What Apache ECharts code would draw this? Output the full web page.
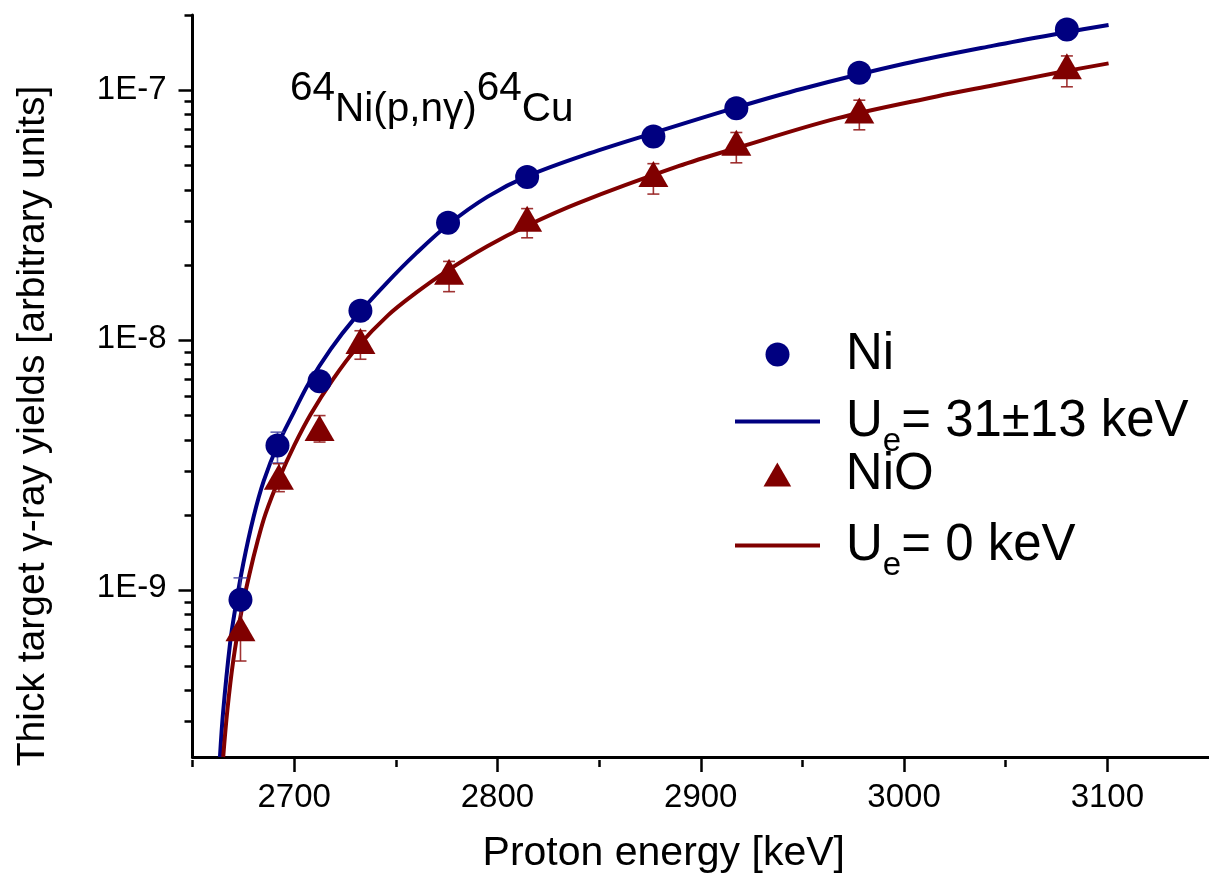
<!DOCTYPE html>
<html>
<head>
<meta charset="utf-8">
<script src="https://cdn.jsdelivr.net/npm/echarts@6/dist/echarts.min.js"></script>
<style>html,body{margin:0;padding:0;background:#fff}#chart{width:1209px;height:879px}</style>
</head>
<body>
<div id="chart"></div>
<script>
const FONT = '"Liberation Sans", Arial, Helvetica, sans-serif';

// ---- data ----
const niEnergy = [2673.6, 2691.8, 2712.5, 2732.6, 2775.7, 2814.6, 2876.7, 2917.5, 2978.0, 3080.1];
const niYield  = [8.98e-10, 3.74e-9, 6.77e-9, 1.30e-8, 2.93e-8, 4.47e-8, 6.50e-8, 8.45e-8, 1.173e-7, 1.749e-7];
const niLow    = [6.9e-10, 3.18e-9, 6.35e-9, 1.24e-8, 2.80e-8, 4.27e-8, 6.2e-8, 8.05e-8, 1.12e-7, 1.67e-7];
const niHigh   = [1.10e-9, 4.23e-9, 7.20e-9, 1.36e-8, 3.06e-8, 4.67e-8, 6.8e-8, 8.85e-8, 1.23e-7, 1.83e-7];

const nioEnergy = [2673.6, 2692.5, 2712.5, 2732.6, 2776.2, 2814.6, 2876.7, 2917.5, 2978.0, 3080.1];
const nioYield  = [6.9e-10, 2.80e-9, 4.40e-9, 9.82e-9, 1.862e-8, 3.04e-8, 4.60e-8, 6.14e-8, 8.28e-8, 1.244e-7];
const nioLow    = [5.1e-10, 2.44e-9, 3.86e-9, 8.3e-9, 1.55e-8, 2.55e-8, 3.82e-8, 5.1e-8, 6.92e-8, 1.03e-7];
const nioHigh   = [8.3e-10, 3.16e-9, 4.93e-9, 1.08e-8, 2.05e-8, 3.34e-8, 5.06e-8, 6.75e-8, 9.1e-8, 1.37e-7];

const fitNiEnergy = [2663.5, 2665.1, 2668.4, 2670.8, 2675, 2680, 2685, 2692, 2700, 2707, 2718, 2730, 2745, 2760, 2776, 2795, 2815, 2845, 2877, 2918, 2950, 3000, 3044, 3080, 3100.6];
const fitNiYield  = [2.1e-10, 3.21e-10, 5.93e-10, 8.07e-10, 1.259e-9, 1.928e-9, 2.692e-9, 3.776e-9, 5.117e-9, 6.607e-9, 9.12e-9, 1.219e-8, 1.663e-8, 2.208e-8, 2.891e-8, 3.724e-8, 4.519e-8, 5.559e-8, 6.73e-8, 8.531e-8, 1.012e-7, 1.274e-7, 1.507e-7, 1.706e-7, 1.824e-7];

const fitNiOEnergy = [2665.1, 2667.1, 2670, 2674.1, 2678, 2682, 2686, 2693, 2700, 2708, 2719, 2731, 2746, 2760, 2775, 2795, 2815, 2840, 2889, 2918, 2967, 3016, 3044, 3077, 3100.6];
const fitNiOYield  = [2.1e-10, 3.21e-10, 5.09e-10, 8.09e-10, 1.138e-9, 1.542e-9, 1.995e-9, 2.799e-9, 3.733e-9, 4.966e-9, 6.871e-9, 9.268e-9, 1.242e-8, 1.535e-8, 1.875e-8, 2.36e-8, 2.864e-8, 3.524e-8, 4.943e-8, 5.861e-8, 7.691e-8, 9.419e-8, 1.045e-7, 1.18e-7, 1.279e-7];

// ---- axes / ticks ----
const xMin = 2650, xMax = 3150;
const yMin = 2.1e-10, yMax = 2e-7;
const xMajorTicks = [2700, 2800, 2900, 3000, 3100];
const xMinorTicks = [2650, 2750, 2850, 2950, 3050];
const yMajorTicks = [1e-9, 1e-8, 1e-7];
const yMinorTicks = [3e-10, 4e-10, 5e-10, 6e-10, 7e-10, 8e-10, 9e-10,
                     2e-9, 3e-9, 4e-9, 5e-9, 6e-9, 7e-9, 8e-9, 9e-9,
                     2e-8, 3e-8, 4e-8, 5e-8, 6e-8, 7e-8, 8e-8, 9e-8, 2e-7];

const seriesNames = ['Ni', 'Ue= 31±13 keV', 'NiO', 'Ue= 0 keV'];
const xName = 'Proton energy [keV]';
const yName = 'Thick target γ-ray yields [arbitrary units]';

const BLUE = '#000080', RED = '#800000';
const zip = (a, b) => a.map((v, i) => [v, b[i]]);
const zip3 = (a, b, c) => a.map((v, i) => [v, b[i], c[i]]);

function errorRenderer(color, capHalf) {
  return function (params, api) {
    const x = api.value(0);
    const lo = api.coord([x, api.value(1)]);
    const hi = api.coord([x, api.value(2)]);
    const style = { stroke: color, lineWidth: 1.6 };
    return {
      type: 'group',
      children: [
        { type: 'line', shape: { x1: lo[0], y1: lo[1], x2: hi[0], y2: hi[1] }, style: style },
        { type: 'line', shape: { x1: lo[0] - capHalf, y1: lo[1], x2: lo[0] + capHalf, y2: lo[1] }, style: style },
        { type: 'line', shape: { x1: hi[0] - capHalf, y1: hi[1], x2: hi[0] + capHalf, y2: hi[1] }, style: style }
      ]
    };
  };
}

const gridRect = { left: 192.5, top: 15, width: 1020, height: 745 };
const tickLine = { color: '#000', width: 2.5 };

const legendRich = {
  m: { fontFamily: FONT, color: '#000', fontSize: 51, lineHeight: 56 },
  s: { fontFamily: FONT, color: '#000', fontSize: 33, lineHeight: 56, padding: [40, 0, 0, 0] }
};
function legendFormatter(name) {
  if (name.indexOf('Ue') === 0) return '{m|U}{s|e}{m|' + name.slice(2) + '}';
  return '{m|' + name + '}';
}
const LINE_ICON = 'path://M0 0H85V4H0Z';
const TRI_ICON = 'path://M15 0L30 26L0 26Z';
function makeLegend(item, left, top) {
  return {
    orient: 'vertical', left: left, top: top, padding: 0,
    itemWidth: 85, itemHeight: 24, selectedMode: false,
    data: [item], formatter: legendFormatter,
    textStyle: { padding: [0, 0, 0, 21], rich: legendRich }
  };
}

const option = {
  animation: false,
  backgroundColor: '#fff',
  textStyle: { fontFamily: FONT },
  title: {
    text: '{a|64}{b|Ni(p,nγ)}{a|64}{b|Cu}',
    left: 290, top: 58, padding: 0,
    textStyle: {
      fontFamily: FONT, fontWeight: 'normal', color: '#000', fontSize: 40.5,
      rich: {
        a: { fontFamily: FONT, fontWeight: 'normal', color: '#000', fontSize: 40.5, lineHeight: 62 },
        b: { fontFamily: FONT, fontWeight: 'normal', color: '#000', fontSize: 40.5, lineHeight: 62, padding: [42, 0, 0, 0] }
      }
    }
  },
  legend: [
    makeLegend({ name: seriesNames[0], icon: 'circle' }, 765.5, 329),
    makeLegend({ name: seriesNames[1], icon: LINE_ICON, itemStyle: { color: BLUE, borderWidth: 0 } }, 735, 385),
    makeLegend({ name: seriesNames[2], icon: TRI_ICON }, 763.5, 449),
    makeLegend({ name: seriesNames[3], icon: LINE_ICON, itemStyle: { color: RED, borderWidth: 0 } }, 735, 509)
  ],
  grid: [
    Object.assign({}, gridRect),
    Object.assign({}, gridRect),
    Object.assign({}, gridRect)
  ],
  xAxis: [
    {
      type: 'value', gridIndex: 0, min: xMin, max: xMax,
      axisLine: { onZero: false, lineStyle: { color: '#000', width: 3 } },
      axisTick: { customValues: xMajorTicks, length: 15, lineStyle: tickLine },
      axisLabel: { customValues: xMajorTicks, margin: 24, fontSize: 33, color: '#000', fontFamily: FONT,
                   formatter: function (v) { return String(v); } },
      splitLine: { show: false },
      name: xName, nameLocation: 'middle', nameGap: 76,
      nameTextStyle: { fontSize: 41, color: '#000', fontFamily: FONT, padding: [0, 74, 0, 0] }
    },
    {
      type: 'value', gridIndex: 1, min: xMin, max: xMax,
      axisLine: { show: false, onZero: false },
      axisTick: { customValues: xMinorTicks, length: 7, lineStyle: tickLine },
      axisLabel: { show: false }, splitLine: { show: false }
    },
    { type: 'value', gridIndex: 2, min: xMin, max: xMax, show: false }
  ],
  yAxis: [
    {
      type: 'log', logBase: 10, gridIndex: 0, min: yMin, max: yMax,
      axisLine: { show: true, onZero: false, lineStyle: { color: '#000', width: 3 } },
      axisTick: { show: false },
      axisLabel: {
        margin: 26, fontSize: 33, color: '#000', fontFamily: FONT,
        showMinLabel: false, showMaxLabel: false,
        formatter: function (v) {
          const e = Math.log10(v), r = Math.round(e);
          return Math.abs(e - r) < 1e-6 ? '1E' + r : '';
        }
      },
      splitLine: { show: false },
      name: yName, nameLocation: 'middle', nameGap: 140,
      nameTextStyle: { fontSize: 39, color: '#000', fontFamily: FONT, padding: [0, 80, 0, 0] }
    },
    {
      type: 'value', gridIndex: 1, min: Math.log10(yMin), max: Math.log10(yMax),
      axisLine: { show: false, onZero: false },
      axisTick: { customValues: yMinorTicks.map(Math.log10), length: 8, lineStyle: tickLine },
      axisLabel: { show: false }, splitLine: { show: false }
    },
    {
      type: 'value', gridIndex: 2, min: Math.log10(yMin), max: Math.log10(yMax),
      axisLine: { show: false, onZero: false },
      axisTick: { customValues: yMajorTicks.map(Math.log10), length: 14, lineStyle: tickLine },
      axisLabel: { show: false }, splitLine: { show: false }
    }
  ],
  series: [
    {
      name: seriesNames[1], type: 'line', data: zip(fitNiEnergy, fitNiYield),
      symbol: 'none', smooth: 0.35, color: BLUE,
      lineStyle: { color: BLUE, width: 4 }, z: 2
    },
    {
      name: seriesNames[3], type: 'line', data: zip(fitNiOEnergy, fitNiOYield),
      symbol: 'none', smooth: 0.35, color: RED,
      lineStyle: { color: RED, width: 4 }, z: 2
    },
    {
      name: 'Ni error', type: 'custom', data: zip3(niEnergy, niLow, niHigh),
      encode: { x: 0, y: [1, 2] }, renderItem: errorRenderer('rgba(60,60,160,0.8)', 7), z: 3, silent: true
    },
    {
      name: 'NiO error', type: 'custom', data: zip3(nioEnergy, nioLow, nioHigh),
      encode: { x: 0, y: [1, 2] }, renderItem: errorRenderer('rgba(150,30,30,0.9)', 6), z: 3, silent: true
    },
    {
      name: seriesNames[0], type: 'scatter', data: zip(niEnergy, niYield),
      symbol: 'circle', symbolSize: 24, color: BLUE, itemStyle: { color: BLUE, opacity: 1 }, z: 4
    },
    {
      name: seriesNames[2], type: 'scatter', data: zip(nioEnergy, nioYield),
      symbol: 'triangle', symbolSize: [30, 26], color: RED, itemStyle: { color: RED, opacity: 1 }, z: 4
    }
  ]
};

const chart = echarts.init(document.getElementById('chart'), null, { renderer: 'canvas' });
chart.setOption(option);
</script>
</body>
</html>
